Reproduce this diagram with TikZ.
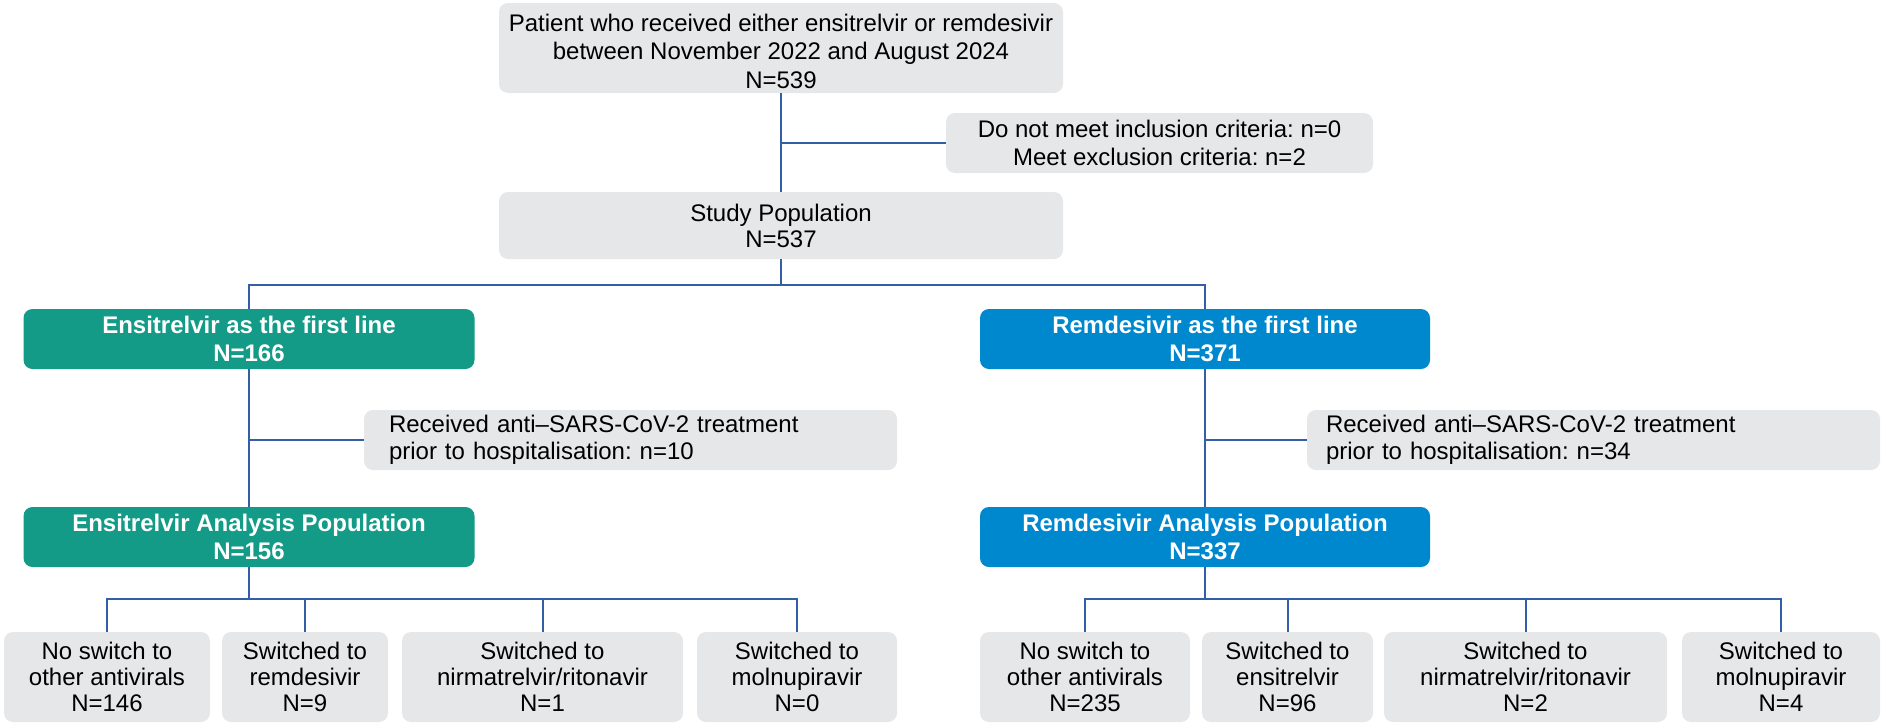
\documentclass[tikz,border=0pt]{standalone}
\usepackage{fontspec}
\setmainfont{Liberation Sans}
\frenchspacing
\definecolor{tealbox}{RGB}{20,155,135}
\definecolor{bluebox}{RGB}{0,136,206}
\definecolor{graybox}{RGB}{230,231,232}
\definecolor{linecol}{RGB}{50,95,165}
\begin{document}
\begin{tikzpicture}[x=1pt,y=-1pt,
  base/.style={rounded corners=9pt, inner sep=0pt, align=center, font=\fontsize{24}{28}\selectfont},
  gbox/.style={base, fill=graybox, text=black},
  tbox/.style={base, fill=tealbox, text=white, font=\bfseries\fontsize{24}{28}\selectfont},
  bbox/.style={base, fill=bluebox, text=white, font=\bfseries\fontsize{24}{28}\selectfont},
  sbox/.style={base, fill=graybox, text=black, font=\fontsize{24}{27}\selectfont, align=left},
  lowbox/.style={base, fill=graybox, text=black, minimum height=90pt, font=\fontsize{24}{26}\selectfont},
  conn/.style={draw=linecol, line width=2pt}]
\useasboundingbox (0,0) rectangle (1883,726);

\node[gbox, minimum width=564pt, minimum height=90pt, font=\fontsize{24}{28.5}\selectfont] (top) at (781,48)
  {\rule{0pt}{24pt}Patient who received either ensitrelvir or remdesivir\\between November 2022 and August 2024\\N=539};
\node[gbox, minimum width=427pt, minimum height=60pt] (excl) at (1159.5,143)
  {Do not meet inclusion criteria: n=0\\Meet exclusion criteria: n=2};
\node[gbox, minimum width=564pt, minimum height=67pt, font=\fontsize{24}{26}\selectfont] (study) at (781,225.5)
  {Study Population\\N=537};

\node[tbox, minimum width=451pt, minimum height=60pt] (t1) at (249,339) {Ensitrelvir as the first line\\N=166};
\node[bbox, minimum width=450pt, minimum height=60pt] (b1) at (1205,339) {Remdesivir as the first line\\N=371};

\node[sbox, minimum height=60pt, inner xsep=25pt, text width=483pt] (sL) at (630.5,440)
  {Received anti–SARS-CoV-2 treatment\\prior to hospitalisation: n=10};
\node[sbox, minimum height=60pt, inner xsep=19pt, text width=535pt] (sR) at (1593.5,440)
  {Received anti–SARS-CoV-2 treatment\\prior to hospitalisation: n=34};

\node[tbox, minimum width=451pt, minimum height=60pt] (t2) at (249,537) {Ensitrelvir Analysis Population\\N=156};
\node[bbox, minimum width=450pt, minimum height=60pt] (b2) at (1205,537) {Remdesivir Analysis Population\\N=337};

\node[lowbox, minimum width=206pt] (l1) at (107,677) {No switch to\\other antivirals\\N=146};
\node[lowbox, minimum width=166pt] (l2) at (305,677) {Switched to\\remdesivir\\N=9};
\node[lowbox, minimum width=281pt] (l3) at (542.5,677) {Switched to\\nirmatrelvir/ritonavir\\N=1};
\node[lowbox, minimum width=200pt] (l4) at (797,677) {Switched to\\molnupiravir\\N=0};

\node[lowbox, minimum width=210pt] (r1) at (1085,677) {No switch to\\other antivirals\\N=235};
\node[lowbox, minimum width=171pt] (r2) at (1287.5,677) {Switched to\\ensitrelvir\\N=96};
\node[lowbox, minimum width=283pt] (r3) at (1525.5,677) {Switched to\\nirmatrelvir/ritonavir\\N=2};
\node[lowbox, minimum width=198pt] (r4) at (1781,677) {Switched to\\molnupiravir\\N=4};

\coordinate (j1) at (781,285);
\coordinate (j2) at (249,599);
\coordinate (j3) at (1205,599);

\draw[conn] (top.south) -- (study.north);
\draw[conn] (top.south |- excl.west) -- (excl.west);
\draw[conn] (study.south) -- (j1);
\draw[conn] (t1.north) -- (t1.north |- j1) -- (b1.north |- j1) -- (b1.north);

\draw[conn] (t1.south) -- (t2.north);
\draw[conn] (t1.south |- sL.west) -- (sL.west);
\draw[conn] (b1.south) -- (b2.north);
\draw[conn] (b1.south |- sR.west) -- (sR.west);

\draw[conn] (t2.south) -- (j2);
\draw[conn] (l1.north) -- (l1.north |- j2) -- (l4.north |- j2) -- (l4.north);
\draw[conn] (l2.north) -- (l2.north |- j2);
\draw[conn] (l3.north) -- (l3.north |- j2);

\draw[conn] (b2.south) -- (j3);
\draw[conn] (r1.north) -- (r1.north |- j3) -- (r4.north |- j3) -- (r4.north);
\draw[conn] (r2.north) -- (r2.north |- j3);
\draw[conn] (r3.north) -- (r3.north |- j3);
\end{tikzpicture}
\end{document}
